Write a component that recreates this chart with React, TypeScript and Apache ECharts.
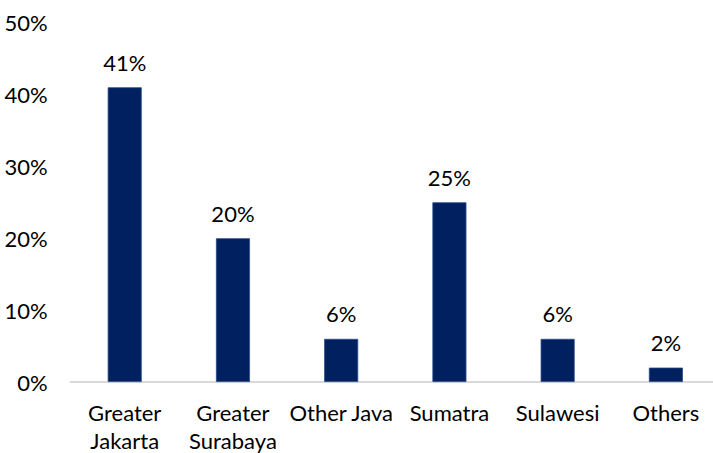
import React, { useEffect, useRef } from "react";
import * as echarts from "echarts";

const categories = ["Greater\nJakarta", "Greater\nSurabaya", "Other Java", "Sumatra", "Sulawesi", "Others"];
const shares = [41, 20, 6, 25, 6, 2];
const yTicks = { min: 0, max: 50, interval: 10 };

export default function App() {
  const ref = useRef<HTMLDivElement>(null);

  useEffect(() => {
    if (!ref.current) return;
    const chart = echarts.init(ref.current, null, { renderer: "svg" });
    const font = "Lato";
    chart.setOption({
      animation: false,
      grid: {
        left: 70.6,
        right: -7,
        top: 22.6,
        bottom: 71,
        containLabel: false,
        outerBoundsMode: "none",
      },
      xAxis: {
        type: "category",
        data: categories,
        axisLine: { show: true, lineStyle: { color: "#d9d9d9", width: 2 } },
        axisTick: { show: false },
        axisLabel: {
          interval: 0,
          margin: 16,
          color: "#000",
          fontFamily: font,
          fontSize: 22,
          lineHeight: 28,
        },
      },
      yAxis: {
        type: "value",
        min: yTicks.min,
        max: yTicks.max,
        interval: yTicks.interval,
        axisLine: { show: false },
        axisTick: { show: false },
        splitLine: { show: false },
        axisLabel: {
          margin: 23,
          color: "#000",
          fontFamily: font,
          fontSize: 22,
          formatter: (v: number) => `${v}%`,
        },
      },
      series: [
        {
          type: "bar",
          data: shares,
          barWidth: 34,
          itemStyle: { color: "#002060", borderColor: "#2a4a86", borderWidth: 0.8 },
          label: {
            show: true,
            position: "top",
            distance: 12,
            color: "#000",
            fontFamily: font,
            fontSize: 22,
            lineHeight: 26,
            formatter: (p: any) => `${p.value}%`,
          },
        },
      ],
    });
    return () => chart.dispose();
  }, []);

  return (
    <div
      ref={ref}
      style={{ position: "fixed", left: 0, top: 0, width: 713, height: 453, background: "#fff" }}
    />
  );
}
